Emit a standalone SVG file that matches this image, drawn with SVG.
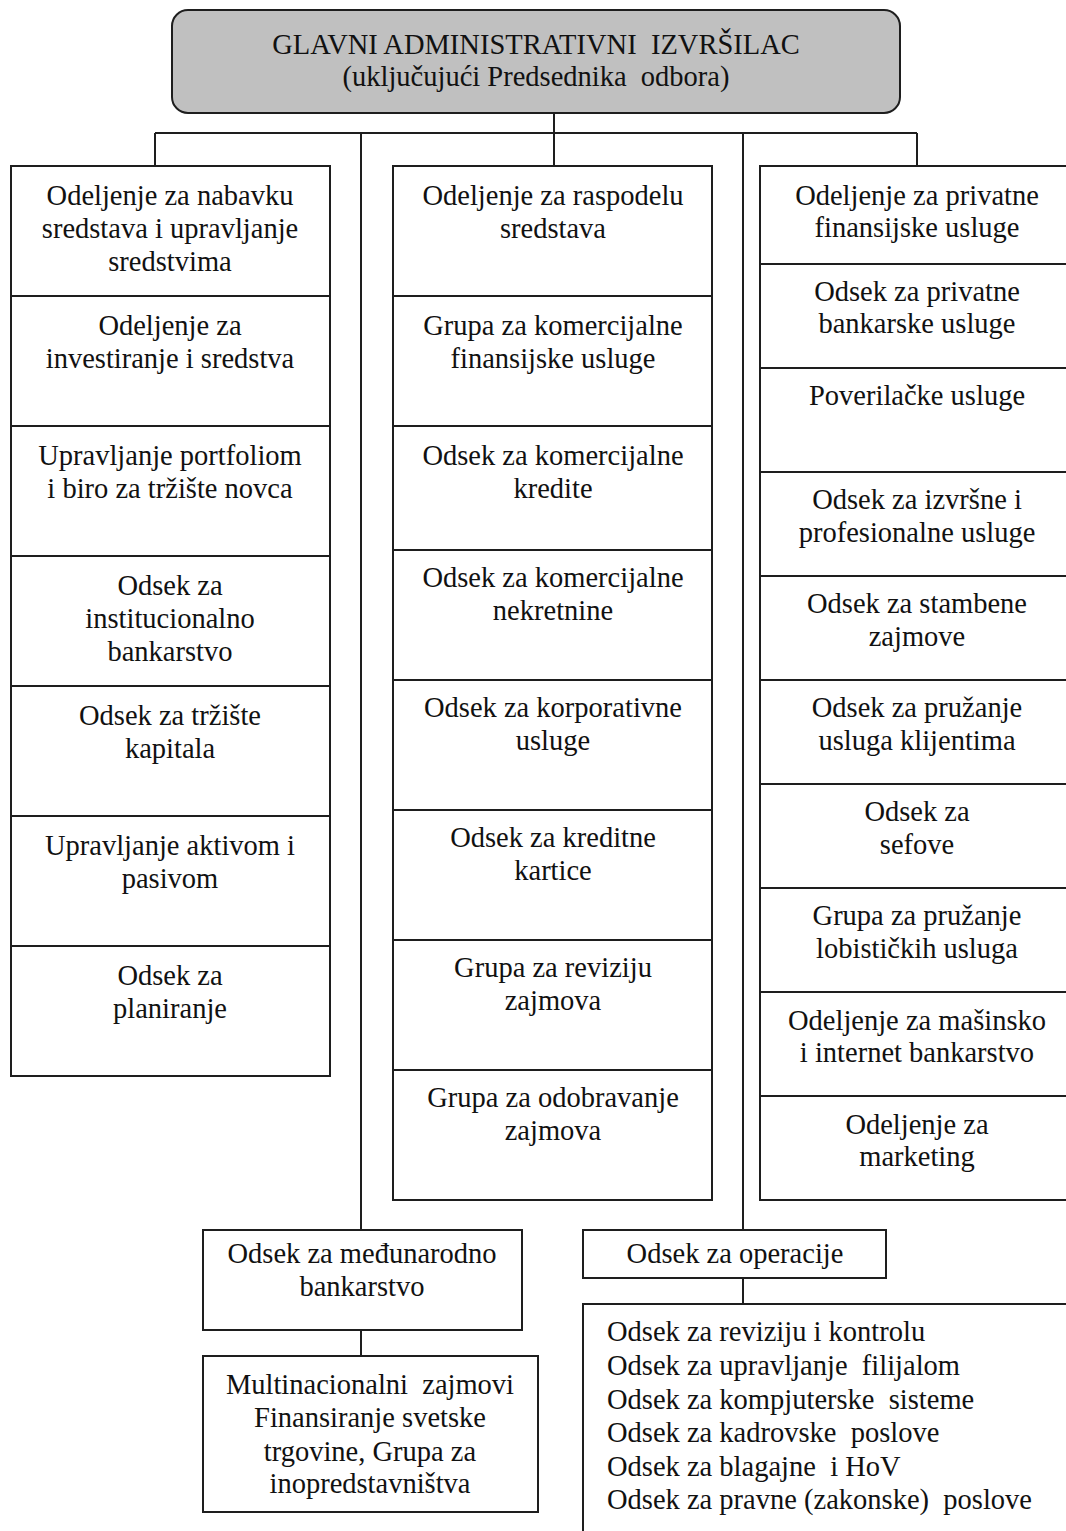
<svg xmlns="http://www.w3.org/2000/svg" width="1066" height="1531" viewBox="0 0 1066 1531" font-family="Liberation Serif" font-size="28.5">
  <style>
    .bg { fill: #ffffff; }
    .box { fill: #ffffff; stroke: #1e1e1e; stroke-width: 2; }
    .head { fill: #c0c0c0; stroke: #1e1e1e; stroke-width: 2; }
    .wire { fill: none; stroke: #1e1e1e; stroke-width: 2; }
    text { font-family: "Liberation Serif", "Times New Roman", serif; fill: #111111; white-space: pre; }
    .c { text-anchor: middle; }
  </style>

  <rect class="bg" x="0" y="0" width="1066" height="1531"/>

  <!-- connectors -->
  <g id="connectors">
    <path class="wire" d="M554 113 V133 M155 133 H917 M155 133 V166 M554 133 V166 M917 133 V166"/>
    <path class="wire" d="M361 133 V1230 M743 133 V1230"/>
    <path class="wire" d="M361 1330 V1356 M743 1278 V1304"/>
  </g>

  <!-- head node -->
  <g id="glavni">
    <rect class="head" x="172" y="10" width="728" height="103" rx="16" ry="16"/>
    <text class="c" x="536" y="54">GLAVNI ADMINISTRATIVNI  IZVRŠILAC</text>
    <text class="c" x="536" y="86">(uključujući Predsednika  odbora)</text>
  </g>

  <!-- left column -->
  <g id="l1">
    <rect class="box" x="11" y="166" width="319" height="130"/>
    <text class="c" x="170" y="205">Odeljenje za nabavku</text>
    <text class="c" x="170" y="238">sredstava i upravljanje</text>
    <text class="c" x="170" y="271">sredstvima</text>
  </g>
  <g id="l2">
    <rect class="box" x="11" y="296" width="319" height="130"/>
    <text class="c" x="170" y="335">Odeljenje za</text>
    <text class="c" x="170" y="368">investiranje i sredstva</text>
  </g>
  <g id="l3">
    <rect class="box" x="11" y="426" width="319" height="130"/>
    <text class="c" x="170" y="465">Upravljanje portfoliom</text>
    <text class="c" x="170" y="498">i biro za tržište novca</text>
  </g>
  <g id="l4">
    <rect class="box" x="11" y="556" width="319" height="130"/>
    <text class="c" x="170" y="595">Odsek za</text>
    <text class="c" x="170" y="628">institucionalno</text>
    <text class="c" x="170" y="661">bankarstvo</text>
  </g>
  <g id="l5">
    <rect class="box" x="11" y="686" width="319" height="130"/>
    <text class="c" x="170" y="725">Odsek za tržište</text>
    <text class="c" x="170" y="758">kapitala</text>
  </g>
  <g id="l6">
    <rect class="box" x="11" y="816" width="319" height="130"/>
    <text class="c" x="170" y="855">Upravljanje aktivom i</text>
    <text class="c" x="170" y="888">pasivom</text>
  </g>
  <g id="l7">
    <rect class="box" x="11" y="946" width="319" height="130"/>
    <text class="c" x="170" y="985">Odsek za</text>
    <text class="c" x="170" y="1018">planiranje</text>
  </g>

  <!-- middle column -->
  <g id="m1">
    <rect class="box" x="393" y="166" width="319" height="130"/>
    <text class="c" x="553" y="205">Odeljenje za raspodelu</text>
    <text class="c" x="553" y="238">sredstava</text>
  </g>
  <g id="m2">
    <rect class="box" x="393" y="296" width="319" height="130"/>
    <text class="c" x="553" y="335">Grupa za komercijalne</text>
    <text class="c" x="553" y="368">finansijske usluge</text>
  </g>
  <g id="m3">
    <rect class="box" x="393" y="426" width="319" height="124"/>
    <text class="c" x="553" y="465">Odsek za komercijalne</text>
    <text class="c" x="553" y="498">kredite</text>
  </g>
  <g id="m4">
    <rect class="box" x="393" y="550" width="319" height="130"/>
    <text class="c" x="553" y="587">Odsek za komercijalne</text>
    <text class="c" x="553" y="620">nekretnine</text>
  </g>
  <g id="m5">
    <rect class="box" x="393" y="680" width="319" height="130"/>
    <text class="c" x="553" y="717">Odsek za korporativne</text>
    <text class="c" x="553" y="750">usluge</text>
  </g>
  <g id="m6">
    <rect class="box" x="393" y="810" width="319" height="130"/>
    <text class="c" x="553" y="847">Odsek za kreditne</text>
    <text class="c" x="553" y="880">kartice</text>
  </g>
  <g id="m7">
    <rect class="box" x="393" y="940" width="319" height="130"/>
    <text class="c" x="553" y="977">Grupa za reviziju</text>
    <text class="c" x="553" y="1010">zajmova</text>
  </g>
  <g id="m8">
    <rect class="box" x="393" y="1070" width="319" height="130"/>
    <text class="c" x="553" y="1107">Grupa za odobravanje</text>
    <text class="c" x="553" y="1140">zajmova</text>
  </g>

  <!-- right column -->
  <g id="r1">
    <rect class="box" x="760" y="166" width="330" height="98"/>
    <text class="c" x="917" y="205">Odeljenje za privatne</text>
    <text class="c" x="917" y="237">finansijske usluge</text>
  </g>
  <g id="r2">
    <rect class="box" x="760" y="264" width="330" height="104"/>
    <text class="c" x="917" y="301">Odsek za privatne</text>
    <text class="c" x="917" y="333">bankarske usluge</text>
  </g>
  <g id="r3">
    <rect class="box" x="760" y="368" width="330" height="104"/>
    <text class="c" x="917" y="405">Poverilačke usluge</text>
  </g>
  <g id="r4">
    <rect class="box" x="760" y="472" width="330" height="104"/>
    <text class="c" x="917" y="509">Odsek za izvršne i</text>
    <text class="c" x="917" y="542">profesionalne usluge</text>
  </g>
  <g id="r5">
    <rect class="box" x="760" y="576" width="330" height="104"/>
    <text class="c" x="917" y="613">Odsek za stambene</text>
    <text class="c" x="917" y="646">zajmove</text>
  </g>
  <g id="r6">
    <rect class="box" x="760" y="680" width="330" height="104"/>
    <text class="c" x="917" y="717">Odsek za pružanje</text>
    <text class="c" x="917" y="750">usluga klijentima</text>
  </g>
  <g id="r7">
    <rect class="box" x="760" y="784" width="330" height="104"/>
    <text class="c" x="917" y="821">Odsek za</text>
    <text class="c" x="917" y="854">sefove</text>
  </g>
  <g id="r8">
    <rect class="box" x="760" y="888" width="330" height="104"/>
    <text class="c" x="917" y="925">Grupa za pružanje</text>
    <text class="c" x="917" y="958">lobističkih usluga</text>
  </g>
  <g id="r9">
    <rect class="box" x="760" y="992" width="330" height="104"/>
    <text class="c" x="917" y="1030">Odeljenje za mašinsko</text>
    <text class="c" x="917" y="1062">i internet bankarstvo</text>
  </g>
  <g id="r10">
    <rect class="box" x="760" y="1096" width="330" height="104"/>
    <text class="c" x="917" y="1134">Odeljenje za</text>
    <text class="c" x="917" y="1166">marketing</text>
  </g>

  <!-- international banking branch -->
  <g id="medjunarodno">
    <rect class="box" x="203" y="1230" width="319" height="100"/>
    <text class="c" x="362" y="1263">Odsek za međunarodno</text>
    <text class="c" x="362" y="1296">bankarstvo</text>
  </g>
  <g id="multinacionalni">
    <rect class="box" x="203" y="1356" width="335" height="156"/>
    <text class="c" x="370" y="1394">Multinacionalni  zajmovi</text>
    <text class="c" x="370" y="1427">Finansiranje svetske</text>
    <text class="c" x="370" y="1461">trgovine, Grupa za</text>
    <text class="c" x="370" y="1493">inopredstavništva</text>
  </g>

  <!-- operations branch -->
  <g id="operacije">
    <rect class="box" x="583" y="1230" width="303" height="48"/>
    <text class="c" x="735" y="1263">Odsek za operacije</text>
  </g>
  <g id="operacije-odseci">
    <rect class="box" x="583" y="1304" width="500" height="240"/>
    <text x="607" y="1341">Odsek za reviziju i kontrolu</text>
    <text x="607" y="1375">Odsek za upravljanje  filijalom</text>
    <text x="607" y="1409">Odsek za kompjuterske  sisteme</text>
    <text x="607" y="1442">Odsek za kadrovske  poslove</text>
    <text x="607" y="1476">Odsek za blagajne  i HoV</text>
    <text x="607" y="1509">Odsek za pravne (zakonske)  poslove</text>
  </g>
</svg>
